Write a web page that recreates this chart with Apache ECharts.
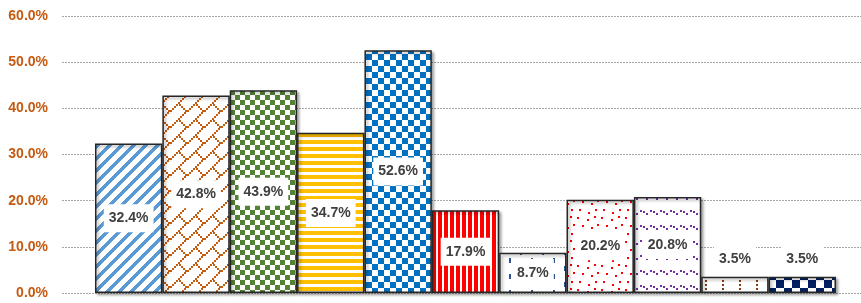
<!DOCTYPE html>
<html>
<head>
<meta charset="utf-8">
<script src="https://cdn.jsdelivr.net/npm/echarts@6/dist/echarts.min.js"></script>
<style>
  html, body { margin: 0; padding: 0; background: #fff; }
  #chart { width: 861px; height: 303px; }
</style>
</head>
<body>
<div id="chart"></div>
<script>
// chart data
const categories = ['1', '2', '3', '4', '5', '6', '7', '8', '9', '10', '11'];
const values = [32.4, 42.8, 43.9, 34.7, 52.6, 17.9, 8.7, 20.2, 20.8, 3.5, 3.5];
const yTicks = [0, 10, 20, 30, 40, 50, 60];

const FONT = '"Liberation Sans", Arial, sans-serif';

// pattern tiles
function tile(w, h, fg, paint) {
    const c = document.createElement('canvas');
    c.width = w; c.height = h;
    const g = c.getContext('2d');
    g.fillStyle = '#fff';
    g.fillRect(0, 0, w, h);
    g.fillStyle = fg;
    paint(g, w, h);
    return { image: c, repeat: 'repeat' };
}
function checker(size, fg) {
    return tile(size * 2, size * 2, fg, (g) => {
        g.fillRect(0, 0, size, size);
        g.fillRect(size, size, size, size);
    });
}
function dots(w, h, fg, pts, s) {
    return tile(w, h, fg, (g) => pts.forEach(p => g.fillRect(p[0], p[1], s, s)));
}

const patterns = [
    // upward diagonal
    tile(12, 12, '#5B9BD5', (g) => {
        for (let y = 0; y < 12; y++)
            for (let x = 0; x < 12; x++)
                if ((x + y) % 12 < 5) g.fillRect(x, y, 1, 1);
    }),
    // shingle
    dots(17, 16, '#C55A11',
        [[0, 14], [2, 12], [4, 10], [6, 8], [8, 6], [10, 4], [12, 2], [14, 0],
         [9, 8], [11, 10], [13, 12], [15, 14]], 2),
    checker(5, '#548235'),
    // horizontal stripes
    tile(4, 7, '#FFC000', (g) => { g.fillRect(0, 0, 4, 4); }),
    checker(6, '#0070C0'),
    // vertical stripes
    tile(6, 4, '#FF0000', (g) => { g.fillRect(0, 0, 4, 4); }),
    // dashed vertical
    tile(22, 16, '#2F5597', (g) => {
        g.fillRect(3, 2, 2, 5);
        g.fillRect(14, 10, 2, 5);
    }),
    // sparse dots
    dots(24, 24, '#FF0000',
        [[1, 1], [11, 3], [18, 0], [6, 9], [15, 11], [21, 8], [3, 17], [12, 20], [19, 17]], 2),
    // wave dashes
    dots(10, 15, '#7030A0', [[0, 0], [3, 1], [6, 3]], 2),
    // dotted vertical
    tile(17, 4, '#843C0C', (g) => { g.fillRect(8, 0, 2, 2); }),
    checker(8, '#002060')
];

const barData = values.map((v, i) => ({
    value: v,
    itemStyle: { color: patterns[i] },
    label: v < 5 ? { position: 'top', distance: 4 } : { position: 'inside' }
}));

const chart = echarts.init(document.getElementById('chart'), null, { renderer: 'canvas' });
chart.setOption({
    animation: false,
    grid: [
        { left: 62, right: 0, top: 16, bottom: 10 },
        { left: 95, right: 25, top: 16, bottom: 10 }
    ],
    xAxis: [
        { gridIndex: 0, type: 'value', show: false, min: 0, max: 1 },
        { gridIndex: 1, type: 'category', data: categories, show: false }
    ],
    yAxis: [
        {
            gridIndex: 0,
            type: 'value',
            min: yTicks[0],
            max: yTicks[yTicks.length - 1],
            interval: 10,
            axisLine: { show: false },
            axisTick: { show: false },
            axisLabel: {
                margin: 14,
                color: '#C55A11',
                fontWeight: 'bold',
                fontSize: 14,
                fontFamily: FONT,
                formatter: (v) => v.toFixed(1) + '%'
            },
            splitLine: { lineStyle: { color: '#A6A6A6', type: [2, 1], width: 1 } }
        },
        { gridIndex: 1, type: 'value', min: 0, max: 60, show: false }
    ],
    series: [
        {
            type: 'bar',
            xAxisIndex: 1,
            yAxisIndex: 1,
            barCategoryGap: '0%',
            data: barData,
            itemStyle: {
                borderColor: '#262626',
                borderWidth: 1.5,
                shadowColor: 'rgba(0,0,0,0.35)',
                shadowBlur: 3,
                shadowOffsetX: 2,
                shadowOffsetY: 2
            },
            label: {
                show: true,
                formatter: (p) => p.value.toFixed(1) + '%',
                color: '#404040',
                fontWeight: 'bold',
                fontSize: 14,
                fontFamily: FONT,
                backgroundColor: '#fff',
                padding: [7, 5]
            }
        }
    ]
});
</script>
</body>
</html>
